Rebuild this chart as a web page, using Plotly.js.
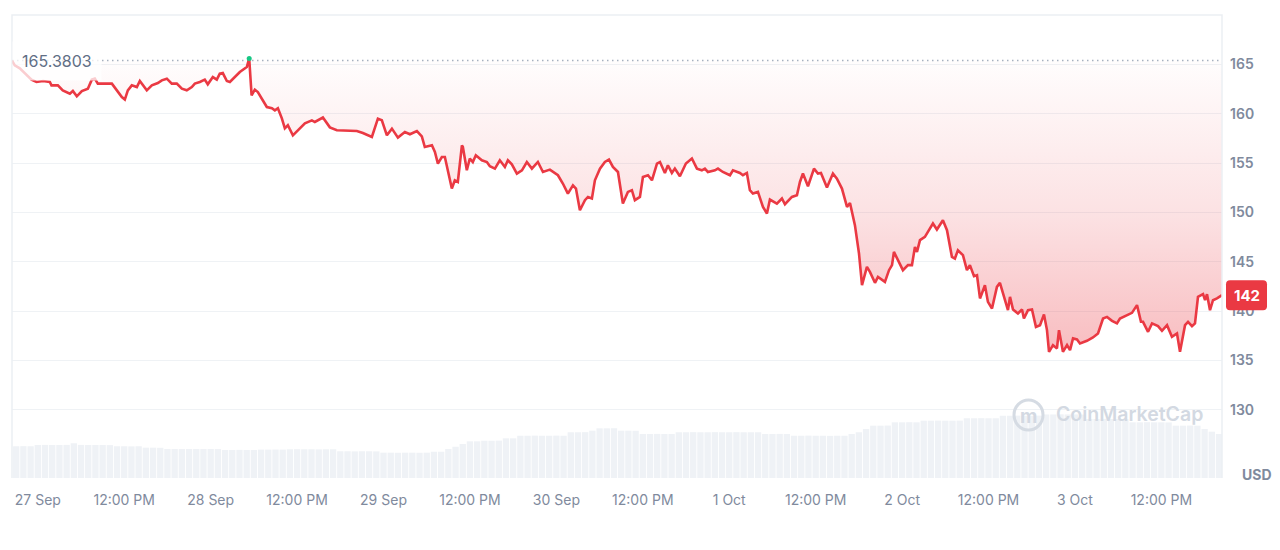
<!DOCTYPE html>
<html><head><meta charset="utf-8">
<script src="https://cdn.plot.ly/plotly-3.0.1.min.js"></script>
<style>html,body{margin:0;padding:0;background:#fff;}#chart{width:1280px;height:550px;}</style>
</head><body><div id="chart"></div>
<script>
// ---- data ----
const priceTimes = [
'2024-09-26 20:25','2024-09-26 20:48','2024-09-26 21:30','2024-09-26 23:07','2024-09-26 23:49',
'2024-09-27 00:44','2024-09-27 01:40','2024-09-27 01:54','2024-09-27 02:47','2024-09-27 03:28','2024-09-27 04:27','2024-09-27 04:52','2024-09-27 05:25','2024-09-27 06:07','2024-09-27 06:57',
'2024-09-27 07:30','2024-09-27 07:55','2024-09-27 08:20','2024-09-27 10:17','2024-09-27 11:07','2024-09-27 11:40','2024-09-27 12:05','2024-09-27 12:30','2024-09-27 13:03','2024-09-27 13:45',
'2024-09-27 14:10','2024-09-27 15:08','2024-09-27 15:50','2024-09-27 16:40','2024-09-27 17:13','2024-09-27 17:55','2024-09-27 18:36','2024-09-27 19:18','2024-09-27 20:00','2024-09-27 20:41',
'2024-09-27 21:23','2024-09-27 21:48','2024-09-27 22:30','2024-09-27 23:11','2024-09-27 23:36',
'2024-09-28 00:18','2024-09-28 00:51','2024-09-28 01:16','2024-09-28 01:41','2024-09-28 02:15','2024-09-28 02:40','2024-09-28 03:21','2024-09-28 04:03','2024-09-28 05:01','2024-09-28 05:21',
'2024-09-28 05:41','2024-09-28 06:08','2024-09-28 06:33','2024-09-28 07:06','2024-09-28 07:48','2024-09-28 08:30','2024-09-28 08:55','2024-09-28 09:20','2024-09-28 09:53','2024-09-28 10:18',
'2024-09-28 10:43','2024-09-28 11:25','2024-09-28 12:06','2024-09-28 13:05','2024-09-28 14:03','2024-09-28 14:28','2024-09-28 15:35','2024-09-28 16:33','2024-09-28 17:31','2024-09-28 19:20',
'2024-09-28 20:18','2024-09-28 21:08','2024-09-28 22:23','2024-09-28 23:13','2024-09-28 23:46',
'2024-09-29 00:28','2024-09-29 01:10','2024-09-29 02:00','2024-09-29 02:58','2024-09-29 03:40','2024-09-29 04:38','2024-09-29 05:19','2024-09-29 05:44','2024-09-29 06:43','2024-09-29 07:08',
'2024-09-29 07:33','2024-09-29 08:06','2024-09-29 08:31','2024-09-29 09:29','2024-09-29 09:54','2024-09-29 10:19','2024-09-29 10:53','2024-09-29 11:01','2024-09-29 11:34','2024-09-29 11:59',
'2024-09-29 12:24','2024-09-29 12:49','2024-09-29 13:39','2024-09-29 14:21','2024-09-29 14:46','2024-09-29 15:28','2024-09-29 16:09','2024-09-29 16:51','2024-09-29 17:16','2024-09-29 17:49',
'2024-09-29 18:31','2024-09-29 19:13','2024-09-29 19:54','2024-09-29 20:36','2024-09-29 21:26','2024-09-29 22:08','2024-09-29 23:06',
'2024-09-30 00:13','2024-09-30 00:54','2024-09-30 01:36','2024-09-30 02:18','2024-09-30 02:43','2024-09-30 03:16','2024-09-30 03:58','2024-09-30 04:23','2024-09-30 04:56','2024-09-30 05:21',
'2024-09-30 06:03','2024-09-30 06:44','2024-09-30 07:18','2024-09-30 07:51','2024-09-30 08:33','2024-09-30 09:14','2024-09-30 09:56','2024-09-30 10:29','2024-09-30 10:54','2024-09-30 11:36',
'2024-09-30 12:01','2024-09-30 12:43','2024-09-30 13:16','2024-09-30 13:58','2024-09-30 14:23','2024-09-30 15:04','2024-09-30 15:29','2024-09-30 16:02','2024-09-30 16:27','2024-09-30 17:09',
'2024-09-30 17:59','2024-09-30 18:49','2024-09-30 19:31','2024-09-30 20:12','2024-09-30 20:37','2024-09-30 21:02','2024-09-30 22:01','2024-09-30 22:26','2024-09-30 23:07',
'2024-10-01 00:06','2024-10-01 00:31','2024-10-01 01:29','2024-10-01 01:54','2024-10-01 02:27','2024-10-01 02:52','2024-10-01 03:17','2024-10-01 03:59','2024-10-01 04:41','2024-10-01 05:14',
'2024-10-01 05:39','2024-10-01 06:37','2024-10-01 07:19','2024-10-01 07:44','2024-10-01 08:42','2024-10-01 09:24','2024-10-01 09:49','2024-10-01 10:14','2024-10-01 10:56','2024-10-01 11:46',
'2024-10-01 12:19','2024-10-01 12:44','2024-10-01 13:34','2024-10-01 14:24','2024-10-01 14:57','2024-10-01 15:39','2024-10-01 16:21','2024-10-01 16:46','2024-10-01 17:27','2024-10-01 18:01',
'2024-10-01 18:26','2024-10-01 19:07','2024-10-01 19:32','2024-10-01 20:14','2024-10-01 20:39','2024-10-01 21:37','2024-10-01 22:11','2024-10-01 22:36','2024-10-01 22:52','2024-10-01 23:17',
'2024-10-02 00:07','2024-10-02 00:49','2024-10-02 01:22','2024-10-02 01:47','2024-10-02 02:04','2024-10-02 02:29','2024-10-02 03:10','2024-10-02 03:35','2024-10-02 04:17','2024-10-02 04:50',
'2024-10-02 05:40','2024-10-02 06:14','2024-10-02 06:55','2024-10-02 07:20','2024-10-02 07:45','2024-10-02 08:27','2024-10-02 09:00','2024-10-02 09:25','2024-10-02 09:59','2024-10-02 10:24',
'2024-10-02 10:49','2024-10-02 11:30','2024-10-02 11:55','2024-10-02 12:29','2024-10-02 13:10','2024-10-02 13:35','2024-10-02 14:00','2024-10-02 14:42','2024-10-02 14:59','2024-10-02 15:24',
'2024-10-02 16:05','2024-10-02 16:39','2024-10-02 16:55','2024-10-02 17:29','2024-10-02 18:02','2024-10-02 18:35','2024-10-02 19:09','2024-10-02 19:42','2024-10-02 20:07','2024-10-02 20:24',
'2024-10-02 20:57','2024-10-02 21:30','2024-10-02 21:47','2024-10-02 22:20','2024-10-02 22:54','2024-10-02 23:19','2024-10-02 23:44',
'2024-10-03 00:17','2024-10-03 00:42','2024-10-03 01:40','2024-10-03 02:30','2024-10-03 03:12','2024-10-03 03:54','2024-10-03 04:27','2024-10-03 05:09','2024-10-03 05:50','2024-10-03 06:15',
'2024-10-03 07:14','2024-10-03 07:55','2024-10-03 08:37','2024-10-03 09:10','2024-10-03 09:27','2024-10-03 10:09','2024-10-03 10:42','2024-10-03 11:32','2024-10-03 12:05','2024-10-03 12:47',
'2024-10-03 13:28','2024-10-03 14:10','2024-10-03 14:35','2024-10-03 15:17','2024-10-03 15:42','2024-10-03 16:15','2024-10-03 16:40','2024-10-03 17:05','2024-10-03 17:47','2024-10-03 18:04',
'2024-10-03 18:20','2024-10-03 18:45','2024-10-03 19:10','2024-10-03 19:43','2024-10-03 20:25'
];
const priceValues = [
165.38,164.90,164.60,163.45,163.21,
163.31,163.21,162.87,162.87,162.37,162.03,162.30,161.76,162.30,162.54,
163.45,163.55,163.05,163.05,162.20,161.69,161.43,162.37,162.87,162.70,
163.31,162.37,162.87,163.11,163.38,163.55,163.05,163.05,162.54,162.37,
162.70,163.05,163.21,163.45,162.98,
163.71,163.45,164.06,164.12,163.31,163.21,163.71,164.22,164.73,165.60,
161.86,162.44,162.20,161.53,160.68,160.55,160.34,160.55,159.53,158.52,
158.83,157.81,158.32,159.03,159.33,159.16,159.61,158.62,158.32,158.32,
158.25,158.05,157.64,159.50,159.33,
157.81,158.49,157.58,158.15,157.92,158.25,157.71,156.63,156.80,156.12,
154.95,155.62,155.62,152.42,153.26,153.09,156.80,156.63,154.27,155.46,
155.11,155.79,155.28,155.11,154.68,154.44,155.28,154.61,155.28,154.88,
153.94,154.27,155.11,154.44,155.11,154.10,154.34,
153.77,152.93,151.91,152.75,152.42,150.22,151.24,151.57,151.41,153.26,
154.44,155.11,155.35,154.61,154.10,150.90,152.08,152.25,151.24,151.57,
153.59,153.77,153.26,154.95,155.11,154.00,154.78,154.00,154.44,153.66,
154.95,155.46,154.44,154.27,154.44,154.10,154.27,154.44,154.10,
153.77,154.27,154.00,153.77,154.00,152.25,151.91,152.08,150.56,149.89,
151.31,150.90,151.41,150.83,151.57,151.74,153.09,153.94,152.65,154.44,
153.94,154.00,152.52,153.94,153.43,152.42,150.56,150.96,148.71,145.84,
142.63,144.48,143.98,142.87,143.47,142.97,144.15,144.66,146.00,145.33,
144.15,144.66,144.66,146.51,146.00,147.19,147.52,148.03,148.88,148.27,
149.21,148.20,145.50,145.33,146.17,145.67,144.15,144.66,143.54,143.64,
141.29,142.63,140.94,140.27,142.46,142.87,141.79,140.10,141.45,140.17,
139.77,140.17,139.26,140.10,140.17,138.41,138.58,139.67,138.08,135.88,
136.56,136.23,138.08,135.88,136.56,136.05,137.24,
137.14,136.73,137.00,137.34,137.74,139.26,139.42,139.02,138.76,139.26,
139.60,139.83,140.61,138.92,138.92,137.91,138.76,138.48,138.01,138.58,
137.40,137.74,135.88,138.58,138.92,138.48,138.76,141.45,141.72,141.11,
141.72,140.10,141.11,141.29,141.62
];
const baselinePrice = 165.3803;
// hourly trailing volume (USD billions), first bar 26 Sep 21:00
const volumeStartUTC = Date.UTC(2024, 8, 26, 21);
const volumeValues = [
2.74,2.75,2.74,
2.85,2.86,2.85,2.85,2.86, 3.00, 2.86,2.85,2.85,2.85,2.84,
2.74,2.74,2.73,2.74, 2.62,2.62,2.61,
2.51,2.51,2.50,2.51,2.51,2.50,2.51,2.50,
2.42,2.42,2.43,2.42,2.42, 2.45,2.45,2.46,2.45,
2.48,2.49,2.48,2.48,2.47,2.48,2.48,
2.31,2.31,2.30,2.31,2.31,2.30,
2.19,2.19,2.18,2.19,2.19,2.18,2.19,
2.27,2.27, 2.51, 2.70, 2.94, 3.17,3.17, 3.22,3.22,3.23, 3.43,3.43,
3.65,3.65,3.66,3.65,3.65,3.66,3.65, 3.95,3.95,3.96, 4.09, 4.29,4.29,4.30, 4.09,4.09,4.08,
3.80,3.80,3.81,3.80,3.80,
3.95,3.95,3.96,3.95,3.95,3.96,3.95,3.95,3.96,3.95,3.95,3.95,
3.80,3.80,3.81,3.80,
3.65,3.65,3.66,3.65,3.65,3.64,3.65,3.65,
3.80, 3.95, 4.23, 4.52,4.52,4.53, 4.81,4.81,4.82,4.81,
4.95,4.95,4.96,4.95,4.95,4.96, 5.16,5.16,5.17,5.16,5.16,
5.38,5.38,5.39,5.38,5.38,5.39, 5.49,5.49,5.50,5.49,5.49,5.48,
5.10,5.10,5.11,5.10,5.10,5.09, 4.81,4.81,4.82,4.81,4.81,4.80,
4.52,4.52,4.53,4.52, 4.23, 4.00, 3.80
];
const xTickVals = ['2024-09-27 00:00','2024-09-27 12:00','2024-09-28 00:00','2024-09-28 12:00','2024-09-29 00:00','2024-09-29 12:00','2024-09-30 00:00','2024-09-30 12:00','2024-10-01 00:00','2024-10-01 12:00','2024-10-02 00:00','2024-10-02 12:00','2024-10-03 00:00','2024-10-03 12:00'];
const xTickText = ['27 Sep','12:00 PM','28 Sep','12:00 PM','29 Sep','12:00 PM','30 Sep','12:00 PM','1 Oct','12:00 PM','2 Oct','12:00 PM','3 Oct','12:00 PM'];
const yTickVals = [130,135,140,145,150,155,160,165];
const yTickText = ['130','135','140','145','150','155','160','165'];
const currencyLabel = 'USD';
const baselineLabel = '165.3803';
const watermarkText = 'CoinMarketCap';

// ---- build ----
const volumeTimes = volumeValues.map((v, i) =>
  new Date(volumeStartUTC + i * 3600e3).toISOString().slice(0, 16).replace('T', ' '));
const xStart = priceTimes[0], xEnd = priceTimes[priceTimes.length - 1];
const lastPrice = priceValues[priceValues.length - 1];
let maxIdx = 0;
priceValues.forEach((v, i) => { if (v > priceValues[maxIdx]) maxIdx = i; });

const RED = '#ea3943';
const GREY = '#808a9d';
const FONT = 'Inter, "Noto Sans", sans-serif';

const traces = [
  { type: 'bar', x: volumeTimes, y: volumeValues, yaxis: 'y2',
    marker: { color: '#eff2f6', line: { width: 0 } }, hoverinfo: 'skip' },
  { type: 'scatter', mode: 'lines', x: [xStart, xEnd], y: [baselinePrice, baselinePrice],
    line: { color: '#a7b1bf', width: 1.5, dash: '1.5px,3.5px' }, hoverinfo: 'skip' },
  { type: 'scatter', mode: 'lines', x: priceTimes, y: priceValues,
    line: { color: RED, width: 2.6, shape: 'linear' },
    fill: 'tonexty',
    fillgradient: { type: 'vertical', start: 134, stop: baselinePrice,
      colorscale: [[0, 'rgba(234,57,67,0.36)'], [0.5, 'rgba(234,57,67,0.15)'], [1, 'rgba(234,57,67,0.01)']] },
    hoverinfo: 'skip' },
  { type: 'scatter', mode: 'markers', x: [priceTimes[maxIdx]], y: [priceValues[maxIdx]],
    marker: { color: '#16c784', size: 5 }, hoverinfo: 'skip' }
];

const layout = {
  width: 1280, height: 550,
  margin: { l: 12, r: 58, t: 15, b: 72 },
  paper_bgcolor: '#fff', plot_bgcolor: '#fff',
  showlegend: false, hovermode: false, bargap: 0.12,
  font: { family: FONT, color: GREY },
  xaxis: { type: 'date', range: [xStart, xEnd], tickvals: xTickVals, ticktext: xTickText,
    showgrid: false, zeroline: false, showline: false, ticks: '',
    tickfont: { size: 14, color: GREY, family: FONT }, ticklabelstandoff: 12, fixedrange: true },
  yaxis: { side: 'right', range: [123.1, 170], tickvals: yTickVals, ticktext: yTickText,
    showgrid: true, gridcolor: '#eff2f5', gridwidth: 1, zeroline: false, showline: false, ticks: '',
    tickfont: { size: 14, color: GREY, family: FONT, weight: 600 }, ticklabelstandoff: 7, fixedrange: true },
  yaxis2: { overlaying: 'y', range: [0, 40], visible: false, fixedrange: true },
  shapes: [
    { type: 'path', xref: 'paper', yref: 'paper', path: 'M 0,0 L 0,1 L 1,1 L 1,0',
      line: { color: '#eceff3', width: 1.5 }, layer: 'above' },
    { type: 'path', xref: 'paper', yref: 'y', xsizemode: 'pixel', ysizemode: 'pixel',
      xanchor: 1, yanchor: lastPrice,
      path: 'M 8,-15 L 41,-15 Q 45,-15 45,-11 L 45,11 Q 45,15 41,15 L 8,15 Q 4,15 4,11 L 4,-11 Q 4,-15 8,-15 Z',
      fillcolor: RED, line: { width: 0 }, layer: 'above' },
    { type: 'circle', xref: 'paper', yref: 'paper',
      x0: (1014 - 12) / 1210, x1: (1043 - 12) / 1210, y0: (478 - 430) / 463, y1: (478 - 400) / 463,
      line: { color: '#d5dbe3', width: 3 }, layer: 'above' }
  ],
  annotations: [
    { xref: 'paper', yref: 'y', x: 0, y: baselinePrice, xanchor: 'left', yanchor: 'middle', xshift: 0,
      text: baselineLabel, showarrow: false, font: { size: 16, color: '#616e85', family: FONT },
      bgcolor: 'rgba(255,255,255,0.75)', borderpad: 9 },
    { xref: 'paper', yref: 'y', x: 1, y: lastPrice, xanchor: 'center', yanchor: 'middle', xshift: 24.5,
      text: String(Math.round(lastPrice)), showarrow: false,
      font: { size: 15, color: '#fff', family: FONT, weight: 700 } },
    { xref: 'paper', yref: 'paper', x: 1, y: 0, xanchor: 'center', yanchor: 'middle', xshift: 35, yshift: 4,
      text: currencyLabel, showarrow: false, font: { size: 14, color: GREY, family: FONT, weight: 700 } },
    { xref: 'paper', yref: 'paper', x: (1054 - 12) / 1210, y: (478 - 414) / 463, xanchor: 'left', yanchor: 'middle',
      text: watermarkText, showarrow: false, font: { size: 19.5, color: '#d3d9e2', family: FONT, weight: 600 } },
    { xref: 'paper', yref: 'paper', x: (1028.5 - 12) / 1210, y: (478 - 416) / 463, xanchor: 'center', yanchor: 'middle',
      text: 'm', showarrow: false, font: { size: 19, color: '#d3d9e2', family: FONT, weight: 700 } }
  ]
};

Plotly.newPlot('chart', traces, layout, { displayModeBar: false, staticPlot: true });
</script>
</body></html>
